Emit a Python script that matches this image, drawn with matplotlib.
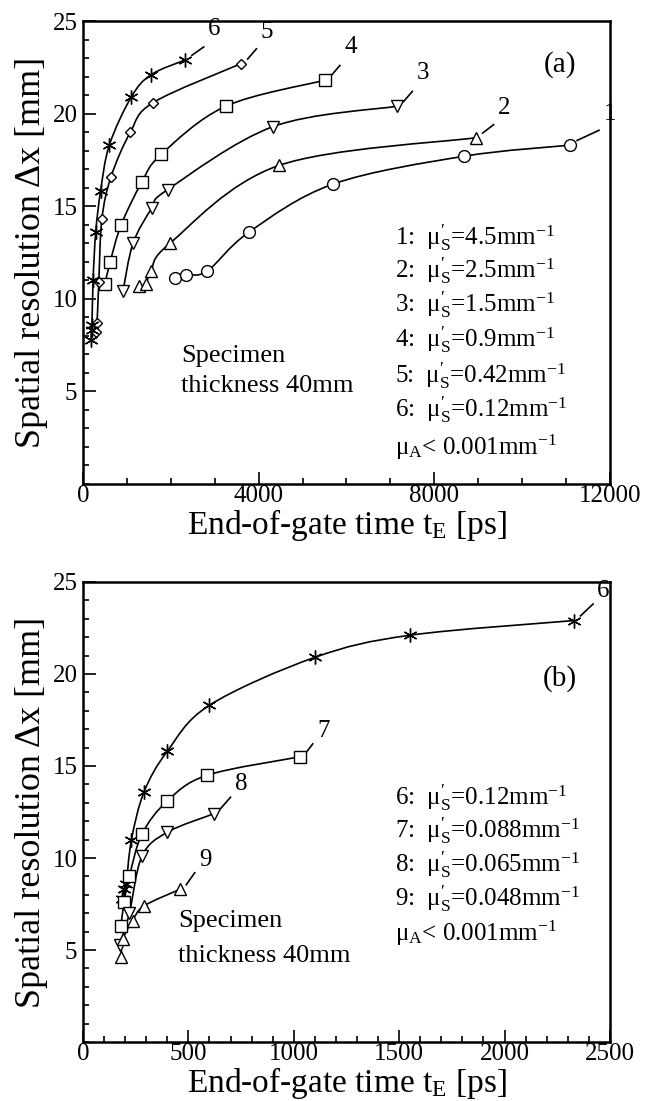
import matplotlib
matplotlib.use("Agg")
import matplotlib.pyplot as plt
from matplotlib.path import Path
from matplotlib.patches import PathPatch
from matplotlib.ticker import MultipleLocator

plt.rcParams['font.family'] = ['Liberation Serif', 'DejaVu Serif']
plt.rcParams['mathtext.fontset'] = 'custom'
plt.rcParams['mathtext.rm'] = 'Liberation Serif'
plt.rcParams['mathtext.it'] = 'Liberation Serif:italic'

# Data: panel (a), end-of-gate time [ps] vs spatial resolution [mm]
x1 = [2100, 2350, 2830, 3780, 5700, 8680, 11100]
y1 = [11.1, 11.3, 11.5, 13.6, 16.2, 17.7, 18.3]
x2 = [1280, 1430, 1550, 1980, 4460, 8950]
y2 = [10.7, 10.8, 11.5, 13.0, 17.2, 18.7]
x3 = [910, 1140, 1570, 1930, 4330, 7150]
y3 = [10.4, 13.0, 14.9, 15.9, 19.3, 20.4]
x4 = [500, 620, 870, 1340, 1780, 3250, 5500]
y4 = [10.8, 12.0, 14.0, 16.3, 17.8, 20.4, 21.8]
x5 = [290, 320, 360, 430, 640, 1080, 1600, 3600]
y5 = [8.2, 8.7, 10.9, 14.3, 16.6, 19.0, 20.6, 22.7]
x6 = [185, 195, 205, 230, 290, 400, 600, 1100, 1550, 2330]
y6 = [7.8, 8.3, 8.6, 11.0, 13.6, 15.8, 18.3, 20.9, 22.1, 22.9]

# panel (b)
x7 = [180, 195, 220, 280, 400, 590, 1030]
y7 = [6.3, 7.6, 9.0, 11.3, 13.1, 14.5, 15.5]
x8 = [175, 220, 280, 400, 620]
y8 = [5.3, 7.0, 10.1, 11.4, 12.4]
x9 = [180, 190, 235, 290, 460]
y9 = [4.6, 5.6, 6.6, 7.4, 8.3]

legend_a = [r"1:  μ$^{\prime}_{\mathrm{S}}$=4.5mm$^{-1}$",
            r"2:  μ$^{\prime}_{\mathrm{S}}$=2.5mm$^{-1}$",
            r"3:  μ$^{\prime}_{\mathrm{S}}$=1.5mm$^{-1}$",
            r"4:  μ$^{\prime}_{\mathrm{S}}$=0.9mm$^{-1}$",
            r"5:  μ$^{\prime}_{\mathrm{S}}$=0.42mm$^{-1}$",
            r"6:  μ$^{\prime}_{\mathrm{S}}$=0.12mm$^{-1}$",
            r"μ$_{\mathrm{A}}$< 0.001mm$^{-1}$"]
legend_b = [r"6:  μ$^{\prime}_{\mathrm{S}}$=0.12mm$^{-1}$",
            r"7:  μ$^{\prime}_{\mathrm{S}}$=0.088mm$^{-1}$",
            r"8:  μ$^{\prime}_{\mathrm{S}}$=0.065mm$^{-1}$",
            r"9:  μ$^{\prime}_{\mathrm{S}}$=0.048mm$^{-1}$",
            r"μ$_{\mathrm{A}}$< 0.001mm$^{-1}$"]

ast = (6, 2, 0)


def smooth_curve(ax, x, y, sx, sy):
    # Catmull-Rom spline through the points, drawn as cubic Bezier path
    p = [(a * sx, b * sy) for a, b in zip(x, y)]
    p = [p[0]] + p + [p[-1]]
    verts = [(x[0], y[0])]
    codes = [Path.MOVETO]
    for i in range(1, len(p) - 2):
        c1 = (p[i][0] + (p[i + 1][0] - p[i - 1][0]) / 6, p[i][1] + (p[i + 1][1] - p[i - 1][1]) / 6)
        c2 = (p[i + 1][0] - (p[i + 2][0] - p[i][0]) / 6, p[i + 1][1] - (p[i + 2][1] - p[i][1]) / 6)
        verts += [(c1[0] / sx, c1[1] / sy), (c2[0] / sx, c2[1] / sy), (p[i + 1][0] / sx, p[i + 1][1] / sy)]
        codes += [Path.CURVE4] * 3
    ax.add_patch(PathPatch(Path(verts, codes), fill=False, lw=1.2, ec='black', zorder=2))


def setup(ax, xmax, xmajor, xminor):
    ax.set_xlim(0, xmax)
    ax.set_ylim(0, 25)
    ax.xaxis.set_major_locator(MultipleLocator(xmajor))
    ax.xaxis.set_minor_locator(MultipleLocator(xminor))
    ax.yaxis.set_major_locator(MultipleLocator(5))
    ax.yaxis.set_minor_locator(MultipleLocator(1))
    ax.tick_params(which='both', direction='in', top=False, right=False, labelsize=18, width=1.2)
    ax.tick_params(which='major', length=9)
    ax.tick_params(axis='x', which='major', pad=1)
    ax.tick_params(axis='y', which='major', pad=4)
    ax.tick_params(which='minor', length=4.5)
    ax.set_yticks([5, 10, 15, 20, 25])
    for s in ax.spines.values():
        s.set_linewidth(1.8)
    ax.set_xlabel(r"End-of-gate time t$_{\mathrm{E}}$ [ps]", fontsize=24, labelpad=0)
    ax.set_ylabel("Spatial resolution Δx [mm]", fontsize=26, labelpad=3)


fig = plt.figure(figsize=(6.57, 11.01), dpi=100)
axa = fig.add_axes([0.1263, 0.5604, 0.8021, 0.4205])
axb = fig.add_axes([0.1263, 0.0535, 0.8021, 0.4180])

# ---- panel (a)
setup(axa, 12000, 4000, 1000)
axa.set_xticks([0, 4000, 8000, 12000])
sxa, sya = 527 / 12000, 463 / 25
series_a = [(x1, y1, 'o', 8.5), (x2, y2, '^', 9), (x3, y3, 'v', 9),
            (x4, y4, 's', 8), (x5, y5, 'D', 5.5), (x6, y6, ast, 10)]
for xs, ys, m, ms in series_a:
    smooth_curve(axa, xs, ys, sxa, sya)
    axa.plot(xs, ys, ls='none', marker=m, ms=ms, mfc='white', mec='black', mew=1.0, zorder=3)

lab_a = [('1', 11100, 18.3, 11750, 19.1, 11850, 19.4),
         ('2', 8950, 18.7, 9350, 19.4, 9450, 19.7),
         ('3', 7150, 20.4, 7500, 21.2, 7600, 21.6),
         ('4', 5500, 21.8, 5850, 22.6, 5950, 23.0),
         ('5', 3600, 22.7, 3950, 23.5, 4050, 23.8),
         ('6', 2330, 22.9, 2750, 23.6, 2850, 24.0)]
for t, xa, ya, xb, yb, xt, yt in lab_a:
    axa.plot([xa + 150, xb], [ya + 0.25, yb], color='black', lw=1.2, clip_on=False)
    axa.text(xt, yt, t, fontsize=18, ha='left', va='bottom', clip_on=False)

axa.text(0.905, 0.905, "(a)", transform=axa.transAxes, fontsize=21, ha='center', va='center')
axa.text(2230, 6.9, "Specimen", fontsize=19, ha='left', va='center')
axa.text(2230, 5.3, "thickness 40mm", fontsize=19, ha='left', va='center')
ypos_a = [0.533, 0.460, 0.387, 0.313, 0.235, 0.160, 0.080]
for s, yy in zip(legend_a, ypos_a):
    axa.text(0.592, yy, s, transform=axa.transAxes, fontsize=18, ha='left', va='center')

# ---- panel (b)
setup(axb, 2500, 500, 100)
sxb, syb = 527 / 2500, 460 / 25
series_b = [(x6, y6, ast, 10), (x7, y7, 's', 8), (x8, y8, 'v', 9), (x9, y9, '^', 9)]
for xs, ys, m, ms in series_b:
    smooth_curve(axb, xs, ys, sxb, syb)
    axb.plot(xs, ys, ls='none', marker=m, ms=ms, mfc='white', mec='black', mew=1.0, zorder=3)

lab_b = [('6', 2330, 22.9, 2420, 23.8, 2440, 23.9),
         ('7', 1030, 15.5, 1090, 16.2, 1110, 16.3),
         ('8', 620, 12.4, 700, 13.3, 720, 13.4),
         ('9', 460, 8.3, 530, 9.2, 550, 9.3)]
for t, xa, ya, xb, yb, xt, yt in lab_b:
    axb.plot([xa + 30, xb], [ya + 0.25, yb], color='black', lw=1.2, clip_on=False)
    axb.text(xt, yt, t, fontsize=18, ha='left', va='bottom', clip_on=False)

axb.text(0.905, 0.79, "(b)", transform=axb.transAxes, fontsize=21, ha='center', va='center')
axb.text(450, 6.6, "Specimen", fontsize=19, ha='left', va='center')
axb.text(450, 4.7, "thickness 40mm", fontsize=19, ha='left', va='center')
ypos_b = [0.531, 0.459, 0.386, 0.312, 0.236]
for s, yy in zip(legend_b, ypos_b):
    axb.text(0.592, yy, s, transform=axb.transAxes, fontsize=18, ha='left', va='center')

fig.savefig("out.png", dpi=100)
